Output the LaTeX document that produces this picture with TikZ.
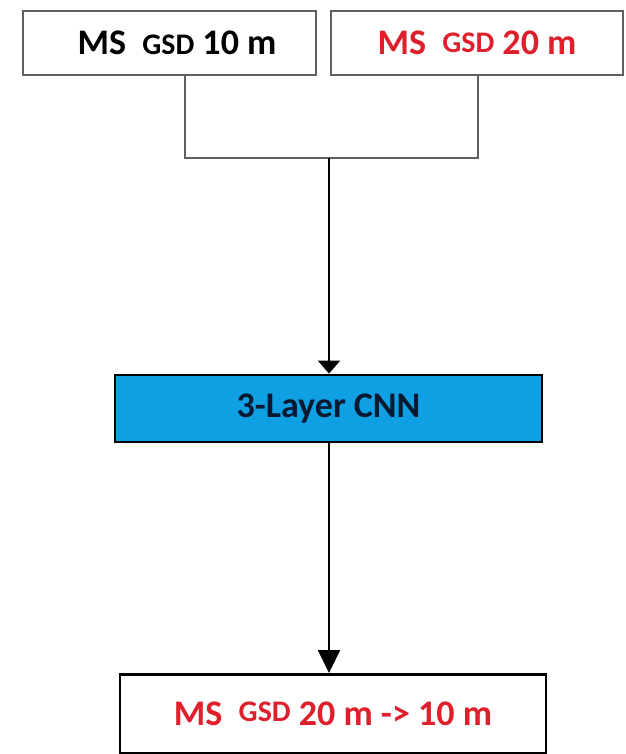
\documentclass[tikz,border=0pt]{standalone}
\usepackage{fontspec}
\setmainfont{Carlito}
\usetikzlibrary{positioning,arrows.meta}

\definecolor{msred}{RGB}{222,32,45}
\definecolor{cnnblue}{RGB}{14,160,226}
\definecolor{cnntext}{RGB}{10,25,50}
\definecolor{boxgray}{RGB}{95,95,95}

% smaller, slightly raised GSD tag
\newcommand{\gsdtag}[1]{\raisebox{#1}{\fontsize{17}{19}\selectfont GSD}}

\begin{document}
\begin{tikzpicture}[
  inbox/.style={draw=boxgray,line width=1.3pt,minimum width=5.85cm,minimum height=1.28cm,
    font=\bfseries\fontsize{20.5}{23}\selectfont},
  cnnbox/.style={draw=black,line width=1.6pt,fill=cnnblue,minimum width=8.54cm,minimum height=1.34cm,
    font=\bfseries\fontsize{20.5}{23}\selectfont,text=cnntext},
  outbox/.style={draw=black,line width=1.6pt,minimum width=8.52cm,minimum height=1.58cm,
    font=\bfseries\fontsize{20.5}{23}\selectfont,text=msred},
  link/.style={draw=boxgray,line width=1.2pt},
  flow/.style={draw=black,line width=1.2pt}
]

\useasboundingbox (0,0) rectangle (12.5,-15.08);

% inputs
\node[inbox] (ms10) at (3.39,-0.86) {\hspace{0.3cm}MS\ \ \gsdtag{0pt} 10 m};
\node[inbox,text=msred] (ms20) at (9.54,-0.86) {MS\ \ \gsdtag{1pt}\ 20 m};

% network and output
\node[cnnbox] (cnn) at (6.57,-8.17) {3-Layer CNN};
\node[outbox,anchor=north] (out) at (6.66,-13.46) {MS\ \ \gsdtag{2.5pt}\ 20 m -> 10 m};

% merge the two inputs
\coordinate (j1) at (3.7,-3.16);
\coordinate (j2) at (9.56,-3.16);
\coordinate (jm) at (6.58,-3.16);
\draw[link] (ms10.south -| j1) -- (j1) -- (j2) -- (ms20.south -| j2);

\draw[flow,-{Triangle[length=0.26cm,width=0.44cm]}] (jm) -- (jm |- cnn.north);
\draw[flow,-{Triangle[length=0.46cm,width=0.44cm]}] (jm |- cnn.south) -- (jm |- out.north);

\end{tikzpicture}
\end{document}
